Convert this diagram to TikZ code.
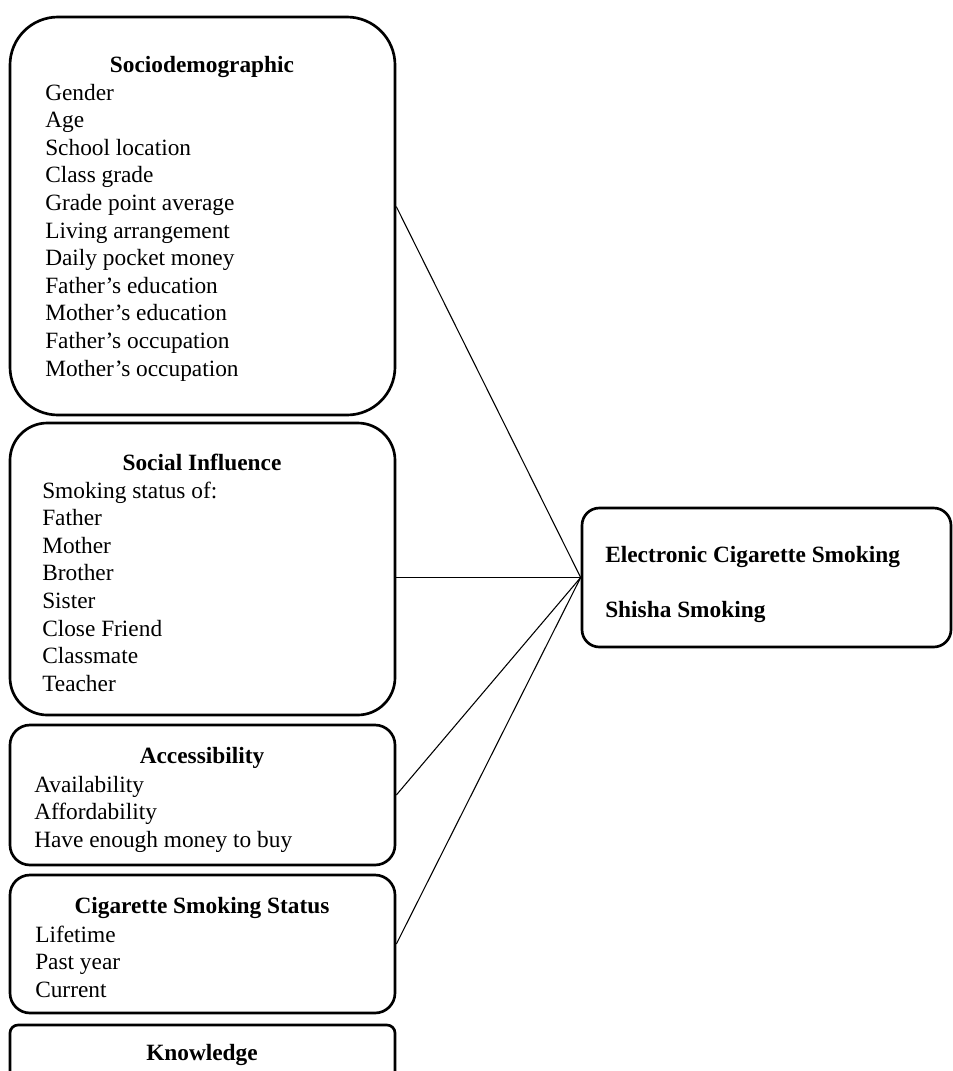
\documentclass[tikz,border=0pt]{standalone}
\usepackage{fontspec}
\setmainfont{Liberation Serif}
\usetikzlibrary{fit}

\begin{document}
\begin{tikzpicture}[x=0.75pt, y=0.75pt,
	box/.style={draw=black, line width=2pt, inner sep=0pt},
	head/.style={font=\fontsize{17.5}{20.7}\selectfont\bfseries, anchor=base, inner sep=0pt},
	items/.style={font=\fontsize{17.5}{20.7}\selectfont, anchor=base west, inner sep=0pt},
	link/.style={draw=black, line width=0.8pt}]
			\useasboundingbox (0,0) rectangle (953,-1071);
			\clip (0,0) rectangle (953,-1071);
			
			% boxes on the left
			\node[box, rounded corners=36pt, fit={(10,-17) (395,-415)}] (sociobox) {};
			\node[box, rounded corners=28pt, fit={(10,-423) (395,-715)}] (socialbox) {};
			\node[box, rounded corners=15pt, fit={(10,-725) (395,-865)}] (accessbox) {};
			\node[box, rounded corners=15pt, fit={(10,-875) (395,-1013)}] (statusbox) {};
			\node[box, rounded corners=6pt, fit={(10,-1025) (395,-1110)}] (knowbox) {};
			
			% outcome box
			\node[box, rounded corners=13pt, fit={(582,-508) (951,-647)}] (outcome) {};
			
			\node[head] (sociohead) at (202,-72) {Sociodemographic};
			\node[items] (socioitems) at (45,-100) {\begin{tabular}[t]{@{}l@{}}Gender\\Age\\School location\\Class grade\\Grade point average\\Living arrangement\\Daily pocket money\\Father's education\\Mother's education\\Father's occupation\\Mother's occupation\end{tabular}};
			
			\node[head] (socialhead) at (202,-470) {Social Influence};
			\node[items] (socialitems) at (42,-498) {\begin{tabular}[t]{@{}l@{}}Smoking status of:\\Father\\Mother\\Brother\\Sister\\Close Friend\\Classmate\\Teacher\end{tabular}};
			
			\node[head] (accesshead) at (202,-763) {Accessibility};
			\node[items] (accessitems) at (34,-792) {\begin{tabular}[t]{@{}l@{}}Availability\\Affordability\\Have enough money to buy\end{tabular}};
			
			\node[head] (statushead) at (202,-913) {Cigarette Smoking Status};
			\node[items] (statusitems) at (35,-942) {\begin{tabular}[t]{@{}l@{}}Lifetime\\Past year\\Current\end{tabular}};
			
			\node[head] (knowhead) at (202,-1060) {Knowledge};
			
			\node[items, font=\fontsize{17.5}{20.7}\selectfont\bfseries] (ecig) at (605,-562) {Electronic Cigarette Smoking};
			\node[items, font=\fontsize{17.5}{20.7}\selectfont\bfseries] (shisha) at (605,-617) {Shisha Smoking};
			
			\draw[link] ([yshift=7pt]sociobox.east) -- (outcome.west);
			\draw[link] (socialbox.east |- outcome.west) -- (outcome.west);
			\draw[link] (accessbox.east) -- (outcome.west);
			\draw[link] (statusbox.east) -- (outcome.west);
\end{tikzpicture}
\end{document}
